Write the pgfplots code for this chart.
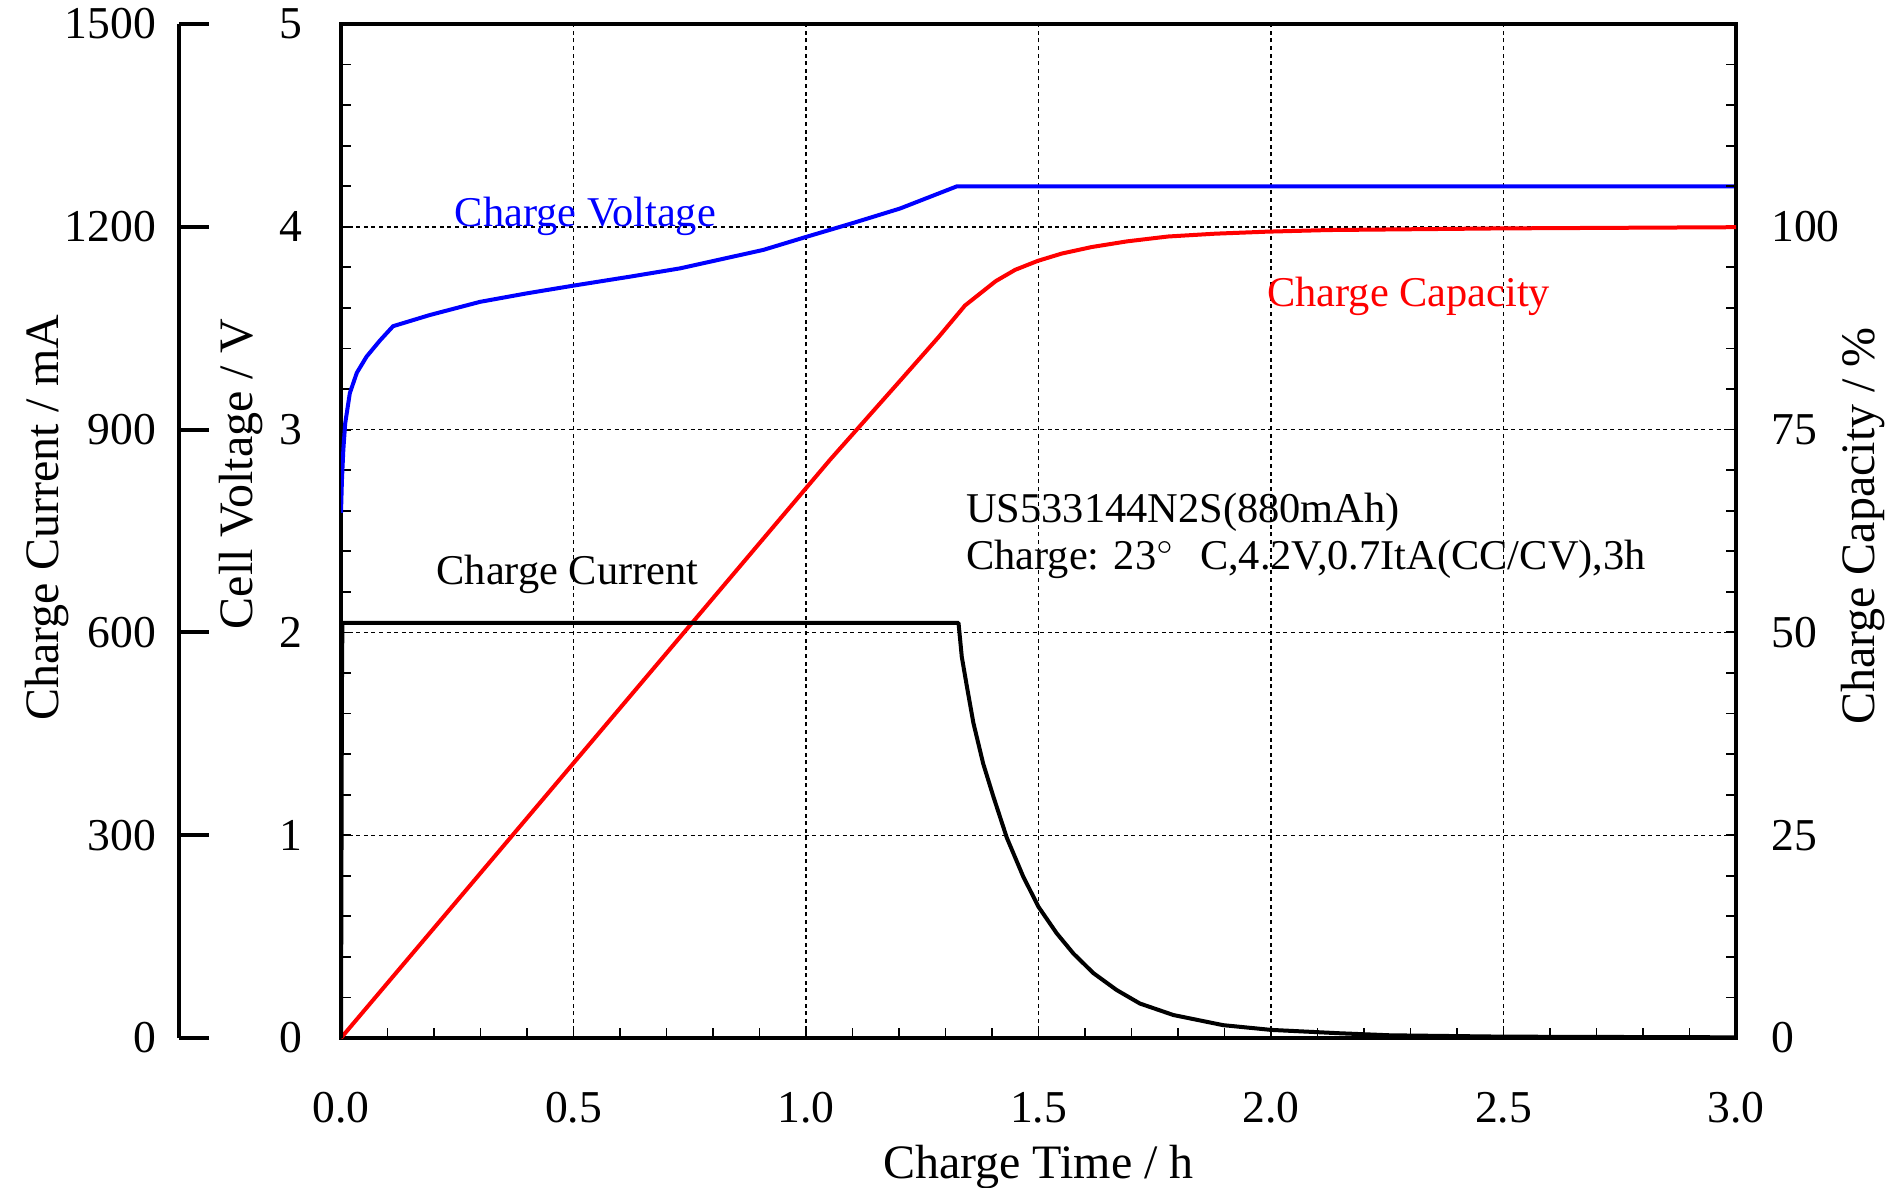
\documentclass[border=0pt]{standalone}
\usepackage{pgfplots}
\pgfplotsset{compat=1.18}
\usepackage{fontspec}
\setmainfont{Liberation Serif}

\pgfplotstableread{
t V
0 2.59
0.002 2.75
0.005 2.90
0.009 3.03
0.019 3.18
0.034 3.28
0.055 3.36
0.084 3.44
0.112 3.51
0.191 3.565
0.299 3.63
0.400 3.672
0.500 3.71
0.621 3.754
0.729 3.795
0.908 3.886
1.000 3.95
1.100 4.018
1.202 4.09
1.325 4.20
3.000 4.20
}\voltage

\pgfplotstableread{
t C
0 0
0.754 51.1
1.052 71.3
1.202 81.0
1.285 86.4
1.342 90.3
1.408 93.3
1.450 94.7
1.4985 95.8
1.550 96.7
1.614 97.5
1.690 98.2
1.778 98.8
1.880 99.15
1.992 99.4
2.124 99.6
2.492 99.8
3.000 99.95
}\capacity

\pgfplotstableread{
t I
0 0
0.002 520
0.003 614
1.328 614
1.335 564
1.346 520
1.360 466
1.381 406
1.403 357
1.432 296
1.467 239
1.500 194
1.539 155
1.575 125
1.618 96
1.668 71
1.718 51
1.790 34
1.897 19
2.000 12
2.148 7
2.256 4
2.500 2
3.000 1
}\current

\pgfplotsset{
  common/.style={
    at={(0pt,0pt)}, anchor=south west,
    scale only axis, width=348.75pt, height=253.5pt,
    xmin=0, xmax=3,
    tick label style={font=\fontsize{11.4}{13}\selectfont},
    /pgf/number format/assume math mode=true,
    /pgf/number format/1000 sep={},
    axis line style={line width=1.2pt},
    tick align=inside,
    tick style={black, line width=0.45pt},
    major tick length=2.6pt, minor tick length=2.6pt,
  },
}

\begin{document}
\begin{tikzpicture}
\useasboundingbox (-85.25pt,-37.5pt) rectangle (388.5pt,259.5pt);

% main axis: cell voltage
\begin{axis}[common,
  ymin=0, ymax=5,
  xtick={0,0.5,...,3}, minor x tick num=4,
  ytick={0,1,...,5}, minor y tick num=4,
  xtick pos=bottom, ytick pos=left,
  grid=major,
  major grid style={black, line width=0.35pt, dash pattern=on 1pt off 0.9pt},
  x tick label style={/pgf/number format/.cd, fixed, fixed zerofill, precision=1, /tikz/.cd,
    anchor=north, inner sep=0pt, yshift=-13.3pt},
  y tick label style={anchor=east, inner sep=0pt, xshift=-9.4pt},
  every axis x label/.style={at={(axis description cs:0.5,0)}, anchor=base, yshift=-35pt, inner sep=0pt, font=\fontsize{12}{14}\selectfont},
  every axis y label/.style={at={(axis description cs:-0.0631,0.556)}, rotate=90, anchor=base, inner sep=0pt, font=\fontsize{12}{14}\selectfont},
  xlabel={Charge Time / h},
  ylabel={Cell Voltage / V},
]
\addplot[blue, line width=1pt, line join=round] table[x=t, y=V] {\voltage};
\node[blue, anchor=base west, inner sep=0pt, font=\fontsize{10.6}{12}\selectfont] at (axis cs:0.243,4.0) {Charge Voltage};
\node[black, anchor=base west, inner sep=0pt, font=\fontsize{10.6}{12}\selectfont] at (axis cs:0.204,2.234) {Charge Current};
\node[red, anchor=base west, inner sep=0pt, font=\fontsize{10.6}{12}\selectfont] at (axis cs:1.990,3.606) {Charge Capacity};
\node[black, anchor=base west, inner sep=0pt, align=left, font=\fontsize{10.6}{11.75}\selectfont] at (axis cs:1.343,2.308) {US533144N2S(880mAh)\\Charge: 23$^{\circ}$\hspace{0.6em}C,4.2V,0.7ItA(CC/CV),3h};
\end{axis}

% capacity axis (right)
\begin{axis}[common,
  ymin=0, ymax=125,
  axis x line=none, axis y line*=right,
  ytick={0,25,...,100}, minor ytick={5,10,15,20,30,35,40,45,55,60,65,70,80,85,90,95,105,110,115,120},
  y tick label style={anchor=west, inner sep=0pt, xshift=8.6pt},
  every axis y label/.style={at={(axis description cs:1.0996,0.505)}, rotate=90, anchor=base, inner sep=0pt, font=\fontsize{12}{14}\selectfont},
  ylabel={Charge Capacity / \%},
]
\addplot[red, line width=1pt, line join=round] table[x=t, y=C] {\capacity};
\end{axis}

% current data on the plot box
\begin{axis}[common,
  ymin=0, ymax=1500,
  hide axis,
]
\addplot[black, line width=1pt, line join=round] table[x=t, y=I] {\current};
\end{axis}

% current axis line (detached, left)
\begin{axis}[common,
  at={(-40.5pt,0pt)}, width=10pt,
  xmin=0, xmax=1, ymin=0, ymax=1500,
  axis x line=none, axis y line*=left,
  ytick={0,300,...,1500},
  scaled y ticks=false,
  major tick length=7.5pt,
  tick style={black, line width=1pt},
  y tick label style={anchor=east, inner sep=0pt, xshift=-5.5pt},
  every axis y label/.style={at={(axis description cs:-3.0,0.513)}, rotate=90, anchor=base, inner sep=0pt, font=\fontsize{12}{14}\selectfont},
  ylabel={Charge Current / mA},
]
\end{axis}
\end{tikzpicture}
\end{document}
